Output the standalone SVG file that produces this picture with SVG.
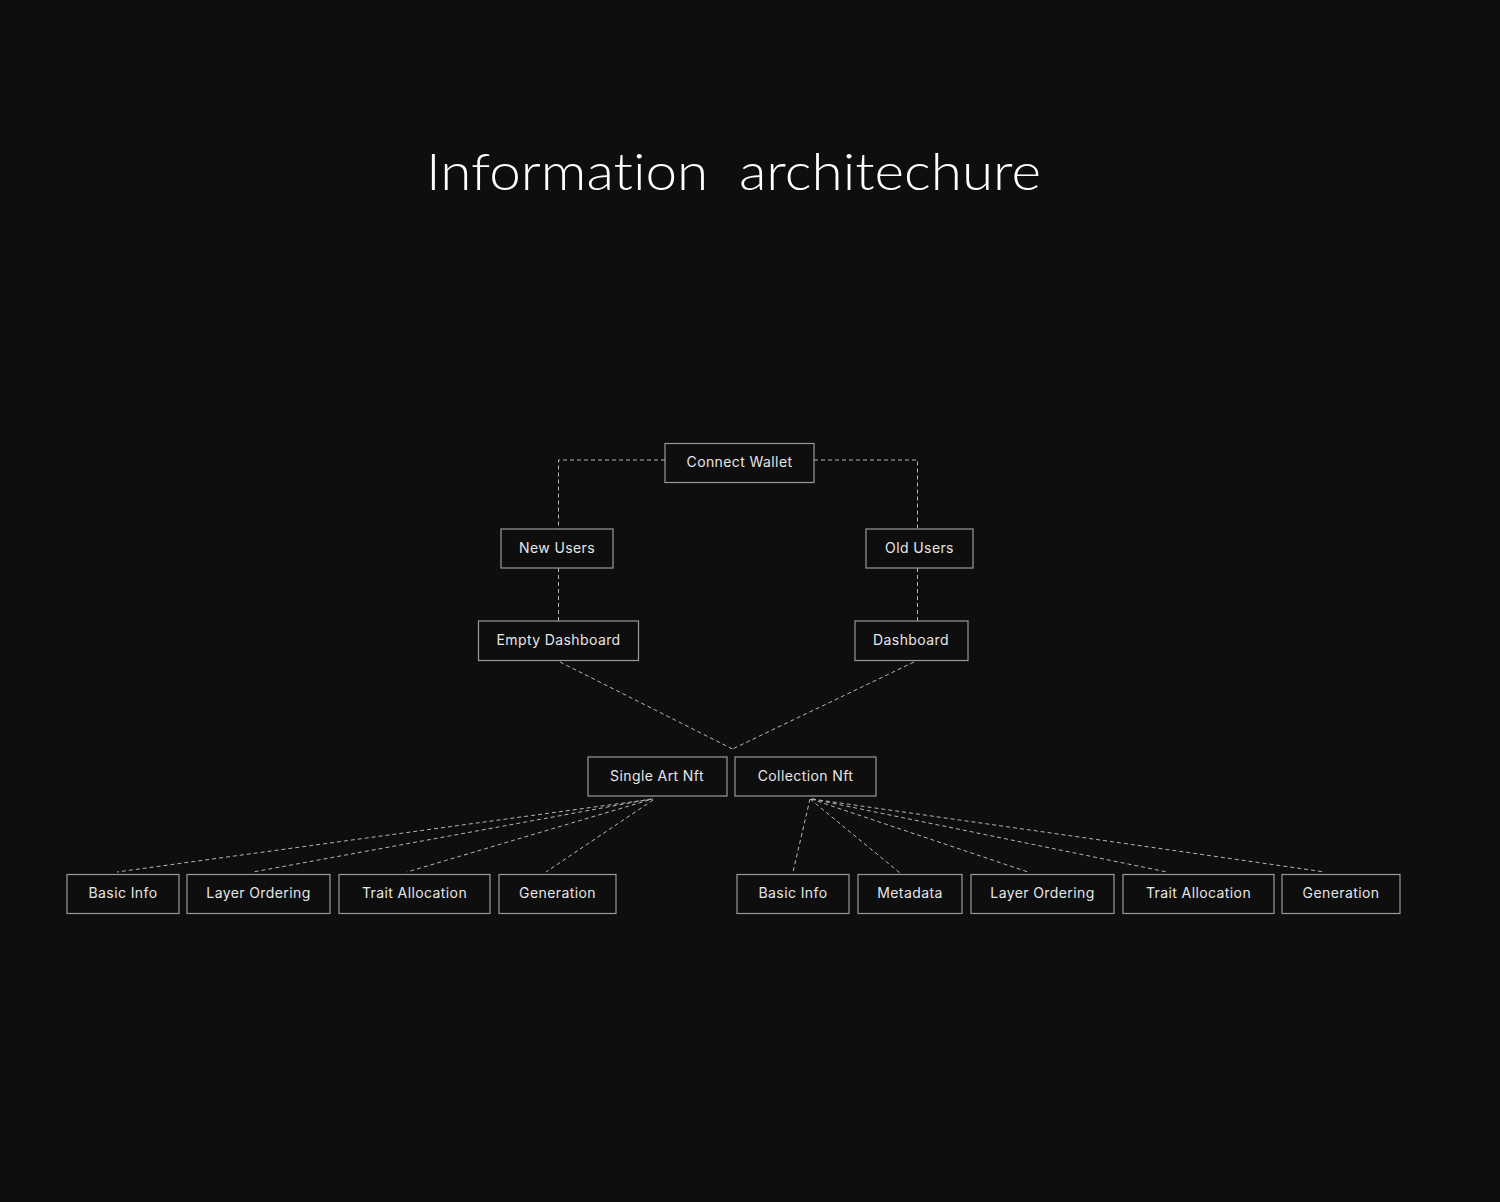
<svg xmlns="http://www.w3.org/2000/svg" width="1500" height="1202" viewBox="0 0 1500 1202">
<style>
.bg{fill:#0e0e0e}
.box{fill:#0e0e0e;stroke:#9a9a9a;stroke-width:1.2}
.lbl{font-family:"Inter","Liberation Sans",sans-serif;font-size:14px;fill:#e6e6e6;text-anchor:middle;letter-spacing:0.4px}
.title{font-family:"Lato","Noto Sans",sans-serif;font-weight:300;font-size:52px;fill:#ffffff;font-variant-ligatures:none;font-feature-settings:"liga" 0}
.con{fill:none;stroke:#b5b5b5;stroke-width:1;stroke-dasharray:4 3}
</style>
<rect class="bg" x="0" y="0" width="1500" height="1202"/>
<text class="title" x="426" y="190" textLength="615" lengthAdjust="spacingAndGlyphs" xml:space="preserve">Information  architechure</text>
<g id="connectors">
<polyline class="con" points="665,460 558.5,460 558.5,529"/>
<polyline class="con" points="814,460 917.5,460 917.5,529"/>
<line class="con" x1="558.5" y1="568" x2="558.5" y2="621"/>
<line class="con" x1="917.5" y1="568" x2="917.5" y2="621"/>
<line class="con" x1="560" y1="662" x2="732.5" y2="749"/>
<line class="con" x1="914" y1="662" x2="732.5" y2="749"/>
<line class="con" x1="653" y1="799" x2="117" y2="872"/>
<line class="con" x1="651" y1="799" x2="253" y2="872"/>
<line class="con" x1="649" y1="800" x2="407" y2="872"/>
<line class="con" x1="653" y1="800" x2="546" y2="872"/>
<line class="con" x1="810" y1="799" x2="793" y2="872"/>
<line class="con" x1="810" y1="799" x2="900" y2="873"/>
<line class="con" x1="811" y1="799" x2="1028" y2="872"/>
<line class="con" x1="812" y1="799" x2="1167" y2="872"/>
<line class="con" x1="812" y1="799" x2="1325" y2="872"/>
</g>
<g id="connect-wallet"><rect class="box" x="665" y="443.5" width="149" height="39"/><text class="lbl" x="739.5" y="467">Connect Wallet</text></g>
<g id="new-users"><rect class="box" x="501" y="529" width="112" height="39"/><text class="lbl" x="557" y="552.5">New Users</text></g>
<g id="old-users"><rect class="box" x="866" y="529" width="107" height="39"/><text class="lbl" x="919.5" y="552.5">Old Users</text></g>
<g id="empty-dashboard"><rect class="box" x="478.5" y="621" width="160" height="39.5"/><text class="lbl" x="558.5" y="645">Empty Dashboard</text></g>
<g id="dashboard"><rect class="box" x="855" y="621" width="113" height="39.5"/><text class="lbl" x="911" y="645">Dashboard</text></g>
<g id="single-art-nft"><rect class="box" x="588" y="757" width="139" height="39"/><text class="lbl" x="657" y="780.5">Single Art Nft</text></g>
<g id="collection-nft"><rect class="box" x="735" y="757" width="141" height="39"/><text class="lbl" x="805.5" y="780.5">Collection Nft</text></g>
<g id="s-basic-info"><rect class="box" x="67" y="874.5" width="112" height="39"/><text class="lbl" x="123" y="898">Basic Info</text></g>
<g id="s-layer-ordering"><rect class="box" x="187" y="874.5" width="143" height="39"/><text class="lbl" x="258.5" y="898">Layer Ordering</text></g>
<g id="s-trait-allocation"><rect class="box" x="339" y="874.5" width="151" height="39"/><text class="lbl" x="414.5" y="898">Trait Allocation</text></g>
<g id="s-generation"><rect class="box" x="499" y="874.5" width="117" height="39"/><text class="lbl" x="557.5" y="898">Generation</text></g>
<g id="c-basic-info"><rect class="box" x="737" y="874.5" width="112" height="39"/><text class="lbl" x="793" y="898">Basic Info</text></g>
<g id="c-metadata"><rect class="box" x="858" y="874.5" width="104" height="39"/><text class="lbl" x="910" y="898">Metadata</text></g>
<g id="c-layer-ordering"><rect class="box" x="971" y="874.5" width="143" height="39"/><text class="lbl" x="1042.5" y="898">Layer Ordering</text></g>
<g id="c-trait-allocation"><rect class="box" x="1123" y="874.5" width="151" height="39"/><text class="lbl" x="1198.5" y="898">Trait Allocation</text></g>
<g id="c-generation"><rect class="box" x="1282" y="874.5" width="118" height="39"/><text class="lbl" x="1341" y="898">Generation</text></g>
</svg>
